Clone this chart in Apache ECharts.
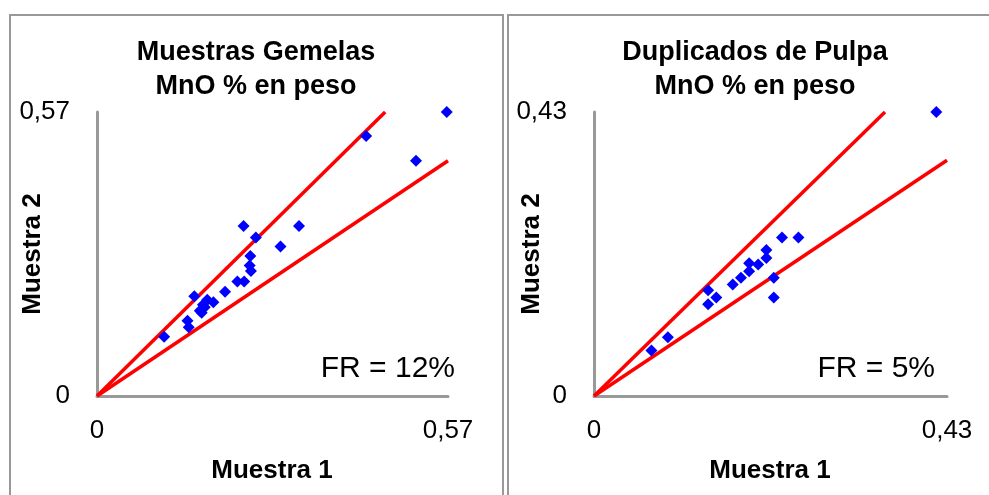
<!DOCTYPE html>
<html>
<head>
<meta charset="utf-8">
<script src="https://cdn.jsdelivr.net/npm/echarts@6/dist/echarts.min.js"></script>
<style>html,body{margin:0;padding:0;background:#fff}#c{width:989px;height:495px}</style>
</head>
<body>
<div id="c"></div>
<script>
// ---- data ----
var leftTitle = 'Muestras Gemelas\nMnO % en peso';
var rightTitle = 'Duplicados de Pulpa\nMnO % en peso';
var xName = 'Muestra 1';
var yName = 'Muestra 2';
var leftMax = 0.57;
var rightMax = 0.43;
var leftFR = 'FR = 12%';
var rightFR = 'FR = 5%';

var leftPoints = [
  [0.568,0.570],[0.437,0.522],[0.518,0.472],[0.238,0.341],[0.328,0.341],
  [0.258,0.318],[0.298,0.300],[0.249,0.281],[0.248,0.262],[0.250,0.251],
  [0.228,0.230],[0.239,0.230],[0.208,0.209],[0.158,0.200],[0.179,0.193],
  [0.189,0.188],[0.172,0.183],[0.175,0.178],[0.167,0.171],[0.170,0.167],
  [0.147,0.151],[0.149,0.138],[0.109,0.119]
];
var leftUpper = [[0,0],[0.468,0.57]];
var leftLower = [[0,0],[0.57,0.472]];

var rightPoints = [
  [0.417,0.430],[0.229,0.240],[0.249,0.240],[0.210,0.221],[0.210,0.209],
  [0.200,0.199],[0.189,0.201],[0.189,0.189],[0.179,0.179],[0.169,0.169],
  [0.219,0.179],[0.219,0.149],[0.139,0.160],[0.149,0.149],[0.139,0.139],
  [0.090,0.089],[0.070,0.069]
];
var rightUpper = [[0,0],[0.3545,0.43]];
var rightLower = [[0,0],[0.43,0.357]];

// ---- chart ----
var FONT = '"Liberation Sans", Arial, sans-serif';
function fmt(v){ return v === 0 ? '0' : String(v).replace('.', ','); }
function xAxis(idx, max){
  return {
    type:'value', gridIndex:idx, min:0, max:max, interval:max,
    axisLine:{show:true, lineStyle:{color:'#999', width:3}},
    axisTick:{show:false}, splitLine:{show:false},
    axisLabel:{formatter:fmt, fontSize:26, color:'#000', fontFamily:FONT, margin:22}
  };
}
function yAxis(idx, max){
  return {
    type:'value', gridIndex:idx, min:0, max:max, interval:max,
    axisLine:{show:true, lineStyle:{color:'#999', width:3}},
    axisTick:{show:false}, splitLine:{show:false},
    axisLabel:{formatter:fmt, fontSize:26, color:'#000', fontFamily:FONT, margin:27}
  };
}
function lineSeries(idx, data){
  return {type:'line', xAxisIndex:idx, yAxisIndex:idx, data:data, symbol:'none',
    lineStyle:{color:'#ff0000', width:3.5}, silent:true, z:2, animation:false};
}
function scatterSeries(idx, data){
  return {type:'scatter', xAxisIndex:idx, yAxisIndex:idx, data:data, symbol:'diamond',
    symbolSize:12, itemStyle:{color:'#0000ff', opacity:1}, z:3, animation:false};
}
function txt(x, y, text, size, bold, align, rot, lh){
  return {type:'text', x:x, y:y, rotation:rot||0, z:10, style:{text:text, fontSize:size,
    fontWeight:bold?'bold':'normal', fontFamily:FONT, fill:'#000',
    align:align||'center', verticalAlign:'middle', lineHeight:lh||32}};
}

var chart = echarts.init(document.getElementById('c'), null, {renderer:'canvas'});
chart.setOption({
  animation:false,
  grid:[
    {left:97, top:112, width:351, height:284},
    {left:594, top:112, width:353, height:284}
  ],
  xAxis:[xAxis(0,leftMax), xAxis(1,rightMax)],
  yAxis:[yAxis(0,leftMax), yAxis(1,rightMax)],
  series:[
    lineSeries(0,leftUpper), lineSeries(0,leftLower), scatterSeries(0,leftPoints),
    lineSeries(1,rightUpper), lineSeries(1,rightLower), scatterSeries(1,rightPoints)
  ],
  graphic:[
    {type:'rect', shape:{x:10, y:15, width:493, height:500}, style:{fill:'none', stroke:'#999', lineWidth:2}},
    {type:'rect', shape:{x:508, y:15, width:500, height:500}, style:{fill:'none', stroke:'#999', lineWidth:2}},
    txt(256, 70, leftTitle, 27, true, 'center', 0, 34),
    txt(755, 70, rightTitle, 27, true, 'center', 0, 34),
    txt(272, 471, xName, 26, true),
    txt(770, 471, xName, 26, true),
    txt(33, 254, yName, 26, true, 'center', Math.PI/2),
    txt(532, 254, yName, 26, true, 'center', Math.PI/2),
    txt(455, 369, leftFR, 30, false, 'right'),
    txt(935, 369, rightFR, 30, false, 'right')
  ]
});
</script>
</body>
</html>
